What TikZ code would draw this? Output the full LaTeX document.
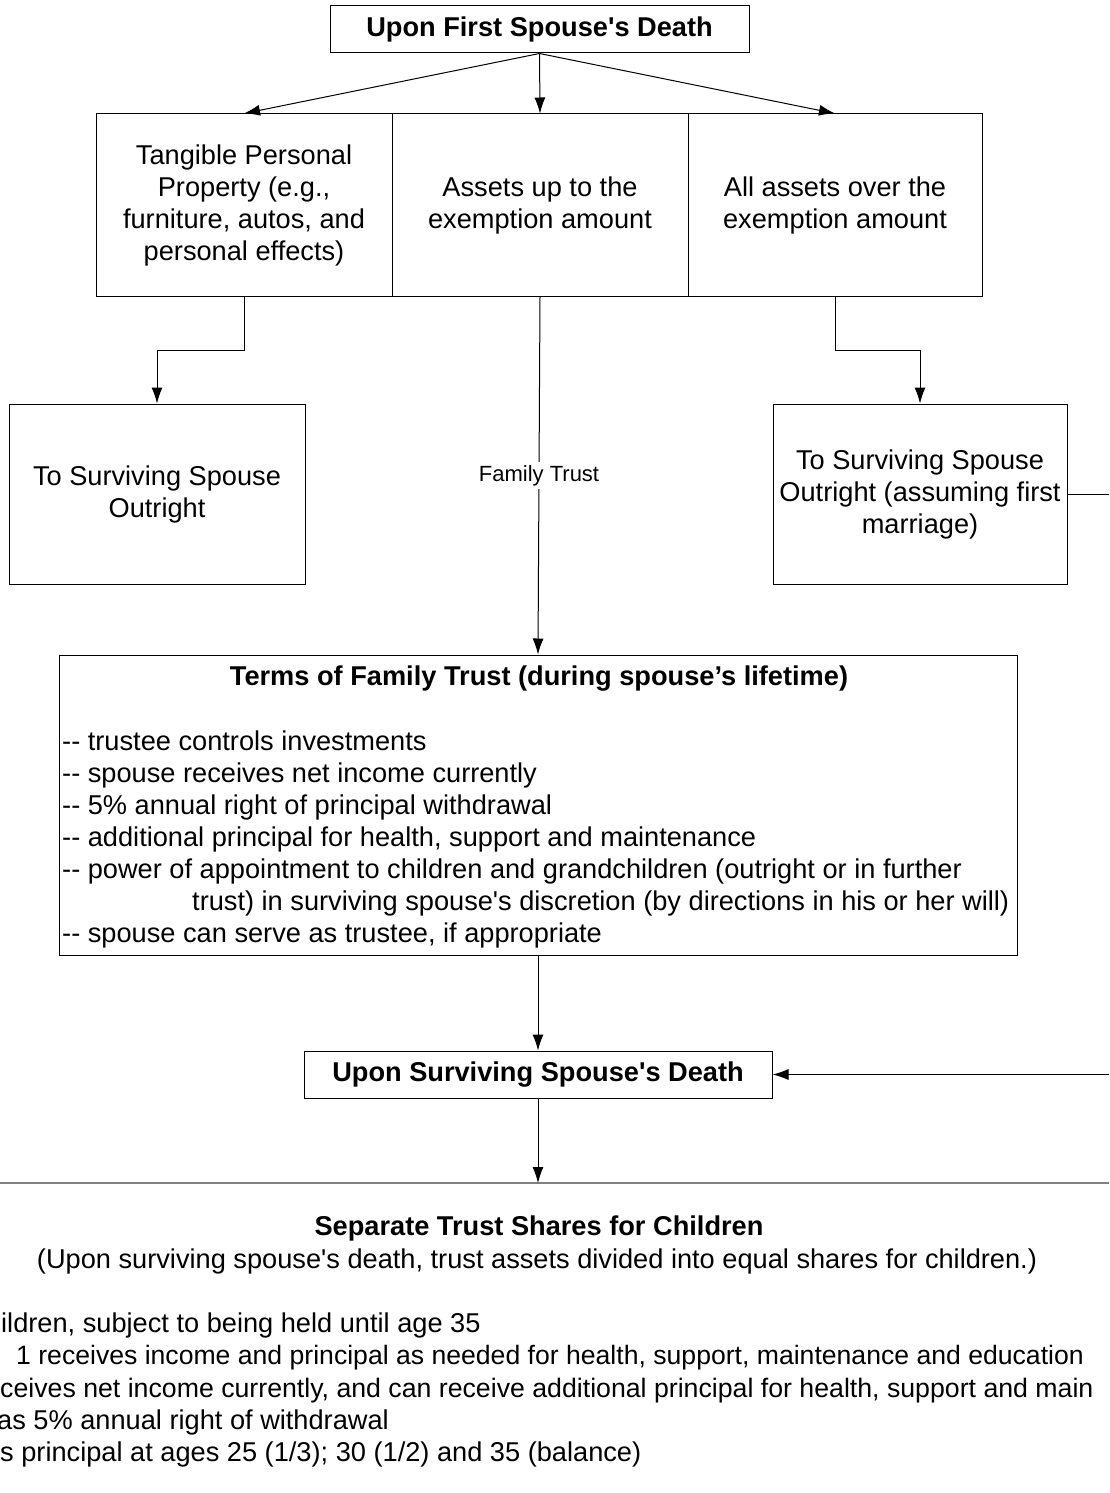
\documentclass[tikz,border=0pt]{standalone}
\usepackage{fontspec}
\setmainfont{Liberation Sans}
\usetikzlibrary{arrows.meta}
\newcommand\bxfont{\fontsize{27.2}{32}\selectfont}
\newcommand\sq{\textquotesingle}
\tikzstyle{bx}=[draw=black,line width=1pt,inner sep=0pt,align=center,font=\bxfont]
\tikzstyle{hd}=[bx,font=\bxfont\bfseries]
\tikzstyle{ar}=[line width=1pt,-{Latex[length=16pt,width=11pt]}]
\tikzstyle{tx}=[inner sep=0pt,anchor=base west,font=\bxfont]

\begin{document}
\begin{tikzpicture}[x=1pt,y=-1pt]
\useasboundingbox (0,0) rectangle (1109,1493);
\clip (0,0) rectangle (1109,1493);
\node[hd,minimum width=419,minimum height=47] (first) at (539.5,29.5) {Upon First Spouse\sq s Death};
\node[bx,minimum width=296,minimum height=182] (tang) at (244,205) {Tangible Personal\\Property (e.g.,\\furniture, autos, and\\personal effects)};
\node[bx,minimum width=296,minimum height=182] (upto) at (540,205) {Assets up to the\\exemption amount};
\node[bx,minimum width=294,minimum height=182] (over) at (835,205) {All assets over the\\exemption amount};
\draw[ar] (first.south) -- (tang.north);
\draw[ar] (first.south) -- (upto.north);
\draw[ar] (first.south) -- (over.north);
\node[bx,minimum width=296,minimum height=180] (outl) at (157,494) {To Surviving Spouse\\Outright};
\node[bx,minimum width=294,minimum height=180] (outr) at (920,494) {To Surviving Spouse\\Outright (assuming first\\marriage)};
\draw[ar] (tang.south) -- ++(0,54) -| (outl.north);
\draw[ar] (over.south) -- ++(0,54) -| (outr.north);
\node[bx,minimum width=958,minimum height=300] (terms) at (538,805) {};
\draw[ar] (upto.south) -- node[fill=white,font=\fontsize{22}{26}\selectfont,inner sep=3pt] (ftl) {Family Trust} (terms.north);
\node[hd,draw=none] (termst) at (539,679) {Terms of Family Trust (during spouse's lifetime)};
\node[tx] (t1) at (62,750) {-{}- trustee controls investments};
\node[tx] (t2) at (62,782) {-{}- spouse receives net income currently};
\node[tx] (t3) at (62,814) {-{}- 5\% annual right of principal withdrawal};
\node[tx] (t4) at (62,846) {-{}- additional principal for health, support and maintenance};
\node[tx] (t5) at (62,878) {-{}- power of appointment to children and grandchildren (outright or in further};
\node[tx] (t6) at (192,910) {trust) in surviving spouse\sq s discretion (by directions in his or her will)};
\node[tx] (t7) at (62,942) {-{}- spouse can serve as trustee, if appropriate};
\node[hd,minimum width=468,minimum height=47] (surv) at (538,1074.5) {Upon Surviving Spouse\sq s Death};
\draw[ar] (terms.south) -- (surv.north);
\draw[ar] (outr.east) -- ++(60,0) coordinate (edge) |- (surv.east);
\coordinate (hl) at (0,1183);
\coordinate (hr) at (1109,1183);
\draw[line width=1.5pt,gray] (hl) -- (hr);
\draw[ar] (surv.south) -- (surv.south |- hl);
\node[hd,draw=none] (sep) at (539,1228) {Separate Trust Shares for Children};
\node[tx,anchor=center] (sepn) at (537,1261) {(Upon surviving spouse\sq s death, trust assets divided into equal shares for children.)};
\node[tx] (c1) at (1,1332) {ildren, subject to being held until age 35};
\node[tx,font=\fontsize{26.6}{32}\selectfont] (c2) at (16,1364) {1 receives income and principal as needed for health, support, maintenance and education};
\node[tx,font=\fontsize{26.7}{32}\selectfont] (c3) at (0,1397) {ceives net income currently, and can receive additional principal for health, support and main};
\node[tx] (c4) at (-3,1429) {as 5\% annual right of withdrawal};
\node[tx] (c5) at (0,1461) {s principal at ages 25 (1/3); 30 (1/2) and 35 (balance)};
\end{tikzpicture}
\end{document}
